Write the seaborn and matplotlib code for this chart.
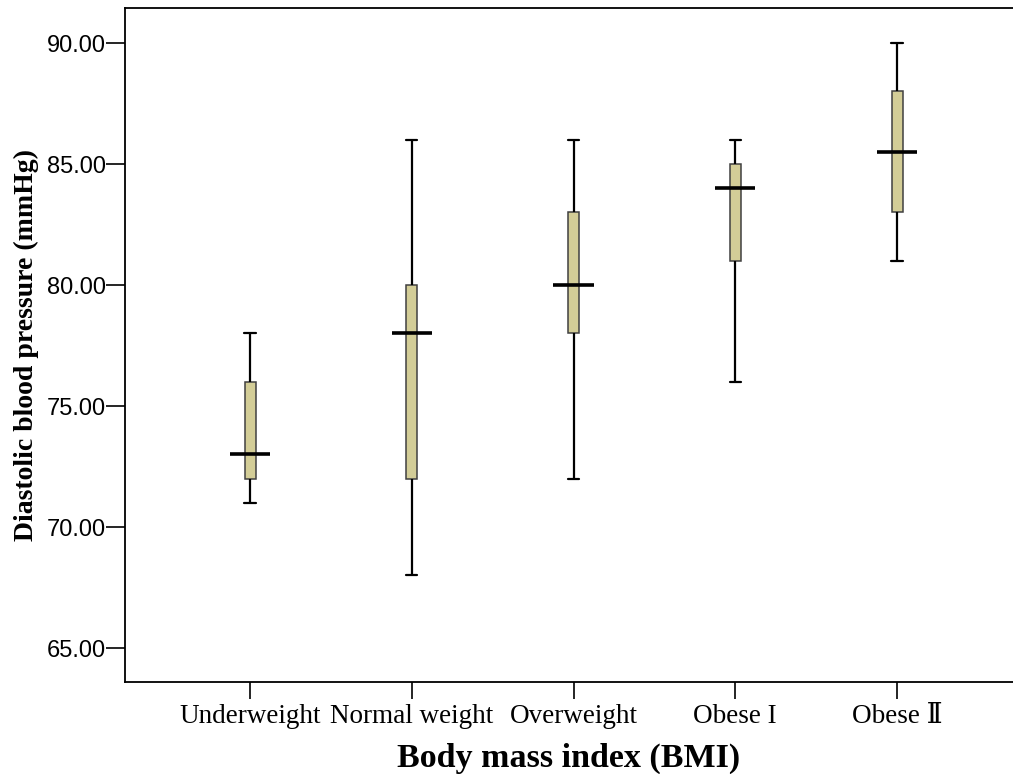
import numpy as np
import pandas as pd
import matplotlib
matplotlib.use("Agg")
import matplotlib.pyplot as plt
import seaborn as sns

# 数据 (从图中读取: 最小值, Q1, 中位数, Q3, 最大值)
categories = ["Underweight", "Normal weight", "Overweight", "Obese I", "Obese \u2161"]
dbp_min = [71, 68, 72, 76, 81]
dbp_q1 = [72, 72, 78, 81, 83]
dbp_median = [73, 78, 80, 84, 85.5]
dbp_q3 = [76, 80, 83, 85, 88]
dbp_max = [78, 86, 86, 86, 90]
y_ticks = [65, 70, 75, 80, 85, 90]

BOX_COLOR = "#d3cd97"


def build_frame():
    # 每组 5 个值, 四分位数与图中一致
    rows = []
    for i, cat in enumerate(categories):
        for v in (dbp_min[i], dbp_q1[i], dbp_median[i], dbp_q3[i], dbp_max[i]):
            rows.append({"bmi": cat, "dbp": v})
    return pd.DataFrame(rows)


def main():
    sns.set_theme(style="ticks")
    plt.rcParams["font.family"] = ["Liberation Serif", "DejaVu Serif"]
    plt.rcParams["text.color"] = "black"
    plt.rcParams["axes.labelcolor"] = "black"
    plt.rcParams["xtick.color"] = "black"
    plt.rcParams["ytick.color"] = "black"

    df = build_frame()

    fig = plt.figure(figsize=(10.13, 7.74), dpi=100)
    ax = fig.add_axes([0.1234, 0.1189, 0.8766, 0.8708])

    sns.boxplot(
        data=df, x="bmi", y="dbp", order=categories,
        width=0.068, whis=np.inf, color=BOX_COLOR, saturation=1,
        linecolor="black", linewidth=1.6,
        boxprops={"edgecolor": "#404040", "linewidth": 1.1},
        medianprops={"visible": False},
        capwidths=0.07,
        ax=ax,
    )

    # 中位数线比箱体更宽
    med = df.groupby("bmi")["dbp"].median().reindex(categories)
    ax.hlines(med.values, np.arange(len(categories)) - 0.124,
              np.arange(len(categories)) + 0.124,
              colors="black", linewidth=2.6, zorder=5)

    ax.set_xlim(-0.773, 4.717)
    ax.set_ylim(63.6, 91.45)
    ax.set_yticks(y_ticks)
    ax.set_yticklabels([f"{v:.2f}" for v in y_ticks],
                       family=["Liberation Sans", "DejaVu Sans"], fontsize=17)
    ax.tick_params(axis="y", length=13.5, width=1.2, pad=0, colors="black")
    ax.tick_params(axis="x", length=12, width=1.2, pad=4, labelsize=19.5, colors="black")

    ax.set_xlabel("Body mass index (BMI)", fontsize=24.5, fontweight="bold",
                  labelpad=10, color="black")
    ax.set_ylabel("Diastolic blood pressure (mmHg)", fontsize=20, fontweight="bold",
                  labelpad=6, color="black")

    for side in ["left", "bottom", "top"]:
        ax.spines[side].set_visible(True)
        ax.spines[side].set_linewidth(1.3)
        ax.spines[side].set_color("black")
    ax.spines["right"].set_visible(False)

    fig.savefig("out.png", dpi=100)


if __name__ == "__main__":
    main()
